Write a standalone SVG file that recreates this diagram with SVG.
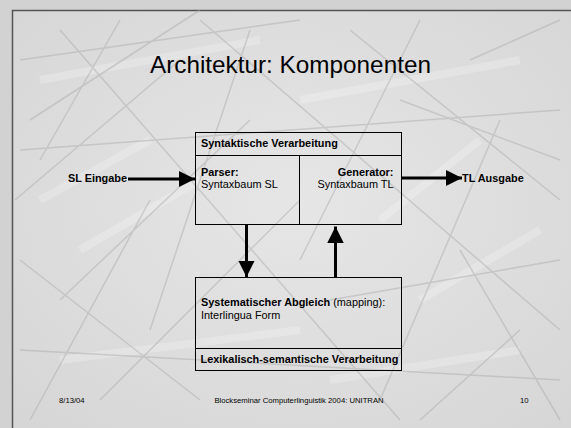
<svg xmlns="http://www.w3.org/2000/svg" width="571" height="428" viewBox="0 0 571 428">
<defs>
<style>
.bg-line{stroke:#a8a8a8;stroke-width:1.5;fill:none;opacity:0.45}
.bg-soft{stroke:#ffffff;stroke-width:8;fill:none;opacity:0.22}
.box{fill:none;stroke:#000;stroke-width:1}
.conn{stroke:#000;stroke-width:3;fill:none}
.t{font-family:"Liberation Sans",Arial,sans-serif;font-size:10.9px;fill:#000}
.b{font-weight:bold}
.foot{font-family:"Liberation Sans",Arial,sans-serif;font-size:7.7px;fill:#000}
</style>
<marker id="ah" viewBox="0 0 10 10" refX="10" refY="5" markerWidth="5.5" markerHeight="5.5" orient="auto" markerUnits="strokeWidth">
<path d="M0,0 L10,5 L0,10 z" fill="#000"/>
</marker>
<radialGradient id="g" cx="0.5" cy="0.45" r="0.7">
<stop offset="0" stop-color="#e6e6e6"/>
<stop offset="1" stop-color="#d6d6d6"/>
</radialGradient>
</defs>
<rect x="0" y="0" width="571" height="428" fill="#d2d2d2"/>
<rect x="12.5" y="10.5" width="570" height="430" fill="url(#g)" stroke="#555" stroke-width="1.5"/>
<g id="background">
<path class="bg-soft" d="M40,80 L260,40 M300,100 L520,60 M80,250 L200,180 M420,300 L540,230 M60,360 L300,330 M330,380 L520,350 M150,140 L40,200 M480,140 L380,220"/>
<path class="bg-line" d="M20,60 L300,20 M30,120 L200,10 M60,300 L250,120 M15,200 L180,60 M100,400 L300,200 M350,30 L560,200 M420,20 L300,260 M470,60 L560,20 M500,120 L380,400 M330,300 L560,260 M20,260 L200,400 M200,20 L560,330 M60,30 L400,420 M250,30 L150,330 M520,330 L420,420 M20,350 L560,380 M150,200 L30,420 M460,250 L560,420 M20,150 L560,110 M120,20 L40,160 M400,100 L560,160"/>
</g>
<g id="title">
<text class="t" x="150" y="73" style="font-size:24.3px">Architektur: Komponenten</text>
</g>
<g id="syntax">
<rect class="box" x="195.5" y="132.5" width="206" height="92"/>
<line class="box" x1="195.5" y1="155.5" x2="401.5" y2="155.5"/>
<line class="box" x1="299.5" y1="155.5" x2="299.5" y2="224.5"/>
<text class="t b" x="201" y="146.5">Syntaktische Verarbeitung</text>
<text class="t b" x="201" y="175.5">Parser:</text>
<text class="t" x="201" y="188">Syntaxbaum SL</text>
<text class="t b" x="393.5" y="175.5" text-anchor="end">Generator:</text>
<text class="t" x="393.5" y="188" text-anchor="end">Syntaxbaum TL</text>
</g>
<g id="lexsem">
<rect class="box" x="195.5" y="277.5" width="206" height="93"/>
<line class="box" x1="195.5" y1="348.5" x2="401.5" y2="348.5"/>
<text class="t" x="201" y="306"><tspan class="b">Systematischer Abgleich</tspan> (mapping):</text>
<text class="t" x="201" y="319">Interlingua Form</text>
<text class="t b" x="200.5" y="362.5">Lexikalisch-semantische Verarbeitung</text>
</g>
<g id="sl-input">
<text class="t b" x="127" y="182" text-anchor="end">SL Eingabe</text>
</g>
<g id="tl-output">
<text class="t b" x="462" y="182">TL Ausgabe</text>
</g>
<g id="connectors">
<line class="conn" x1="128" y1="179" x2="195" y2="179" marker-end="url(#ah)"/>
<line class="conn" x1="401.5" y1="178" x2="462" y2="178" marker-end="url(#ah)"/>
<line class="conn" x1="246.5" y1="225" x2="246.5" y2="277" marker-end="url(#ah)"/>
<line class="conn" x1="335.5" y1="277" x2="335.5" y2="226.5" marker-end="url(#ah)"/>
</g>
<g id="footer">
<text class="foot" x="59" y="403">8/13/04</text>
<text class="foot" x="299" y="403" text-anchor="middle">Blockseminar Computerlinguistik 2004: UNITRAN</text>
<text class="foot" x="520" y="403">10</text>
</g>
</svg>
